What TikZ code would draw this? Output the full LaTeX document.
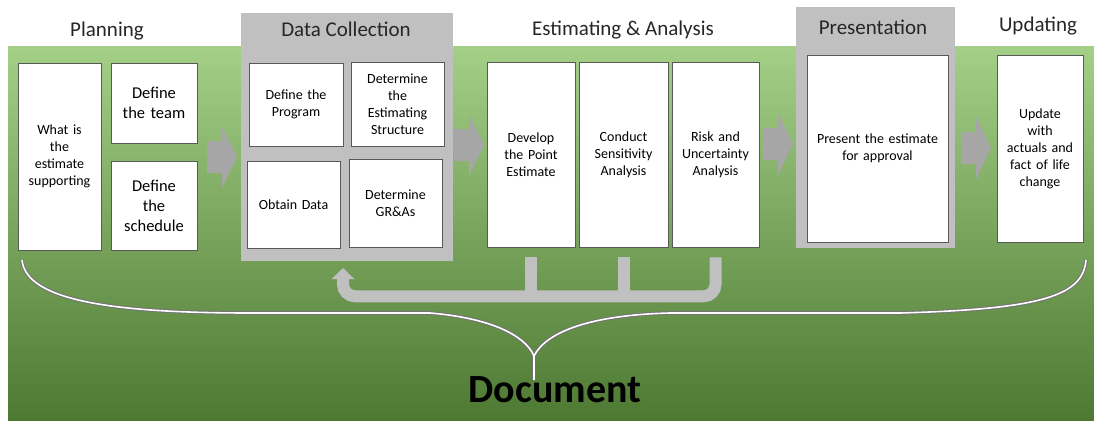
\documentclass[tikz,border=0pt]{standalone}
\usepackage{fontspec}
\setmainfont{Carlito}
\usetikzlibrary{arrows.meta}
\definecolor{panelgray}{HTML}{C0C0C0}
\definecolor{arrowgray}{HTML}{A6A6A6}
\definecolor{greentop}{HTML}{A4CF87}
\definecolor{greenmid}{HTML}{72AC48}
\definecolor{greenbot}{HTML}{4E7932}
\definecolor{headtext}{HTML}{262626}

\begin{document}
\begin{tikzpicture}[x=1pt,y=-1pt,
	stepbox/.style={draw=black!65, line width=0.6pt, fill=white, inner sep=2pt, align=center, font=\fontsize{14}{17}\selectfont},
	bigstep/.style={stepbox, font=\fontsize{16.5}{20}\selectfont},
	panel/.style={fill=panelgray, draw=none, inner sep=0pt},
	heading/.style={anchor=base, text=headtext, font=\fontsize{21}{25}\selectfont},
	feedback/.style={draw=panelgray, line width=12pt, rounded corners=12pt},
	blockarr/.pic={\fill[arrowgray] (-15,-16) -- (0,-16) -- (0,-31) -- (15,0) -- (0,31) -- (0,16) -- (-15,16) -- cycle;}
	]
				\useasboundingbox (0,0) rectangle (1094,420);
				\shade[top color=greentop, middle color=greenmid, bottom color=greenbot] (8,47) rectangle (1094,420);

				\node[panel, minimum width=212pt, minimum height=248pt] (dcpanel) at (347,137) {};
				\node[panel, minimum width=159pt, minimum height=241pt] (prespanel) at (875.5,127.5) {};

				\node[heading] (hplan) at (107,37) {Planning};
				\node[heading] (hdata) at (346,37) {Data Collection};
				\node[heading] (hest) at (623,36) {Estimating \& Analysis};
				\node[heading] (hpres) at (873,35) {Presentation};
				\node[heading] (hupd) at (1038,32) {Updating};

				% planning
				\node[stepbox, minimum width=83pt, minimum height=187pt, text width=77pt] (what) at (59.5,156.5) {What is\\the\\estimate\\supporting};
				\node[bigstep, minimum width=86pt, minimum height=80pt, text width=80pt] (team) at (154,103) {Define\\the team};
				\node[bigstep, minimum width=86pt, minimum height=89pt, text width=80pt] (sched) at (154,205.5) {Define\\the\\schedule};

				% data collection
				\node[stepbox, minimum width=94pt, minimum height=83pt, text width=88pt] (prog) at (296,104.5) {Define the\\Program};
				\node[stepbox, minimum width=93pt, minimum height=84pt, text width=87pt] (struct) at (397.5,104) {Determine\\the\\Estimating\\Structure};
				\node[stepbox, minimum width=93pt, minimum height=87pt, text width=87pt] (obtain) at (293.5,204.5) {Obtain Data};
				\node[stepbox, minimum width=93pt, minimum height=88pt, text width=87pt] (gra) at (395.5,203) {Determine\\GR\&As};

				% estimating & analysis
				\node[stepbox, minimum width=88pt, minimum height=185pt, text width=82pt] (dev) at (531,154.5) {Develop\\the Point\\Estimate};
				\node[stepbox, minimum width=89pt, minimum height=185pt, text width=83pt] (sens) at (623.5,154.5) {Conduct\\Sensitivity\\Analysis};
				\node[stepbox, minimum width=87pt, minimum height=185pt, text width=81pt] (risk) at (715.5,154.5) {Risk and\\Uncertainty\\Analysis};

				% presentation, updating
				\node[stepbox, minimum width=141pt, minimum height=187pt, text width=135pt] (pres) at (877.5,148.5) {Present the estimate\\for approval};
				\node[stepbox, minimum width=86pt, minimum height=187pt, text width=80pt] (upd) at (1040,148.5) {Update\\with\\actuals and\\fact of life\\change};

				\pic at (222,157) {blockarr}; % planning -> data
				\pic at (469,145) {blockarr}; % data -> estimating
				\pic at (778,144) {blockarr}; % estimating -> presentation
				\pic at (976,148) {blockarr}; % presentation -> updating

				\coordinate (fbtip) at (343,268);
				\draw[feedback, -{Triangle[width=22pt,length=11pt]}] ([yshift=-10pt]risk.south) -- ++(0,39) -| (fbtip); % ritorno a data collection
				\draw[feedback] ([yshift=-10pt]dev.south) -- ++(0,40);
				\draw[feedback] ([yshift=-10pt]sens.south) -- ++(0,40);

				\foreach \c/\w in {black!55/3.6pt, white/1.6pt} {
					\draw[draw=\c, line width=\w] (22,260) .. controls (26,300) and (110,313) .. (250,313) -- (430,313) .. controls (490,318) and (525,335) .. (534,356) -- (534,380);
					\draw[draw=\c, line width=\w] (534,356) .. controls (546,332) and (590,315) .. (670,313) -- (900,313) .. controls (1045,309) and (1083,295) .. (1086,260);
				}

				\node[anchor=base, font=\fontsize{40}{48}\selectfont\bfseries] (doc) at (555,402) {Document};
			\end{tikzpicture}
\end{document}
